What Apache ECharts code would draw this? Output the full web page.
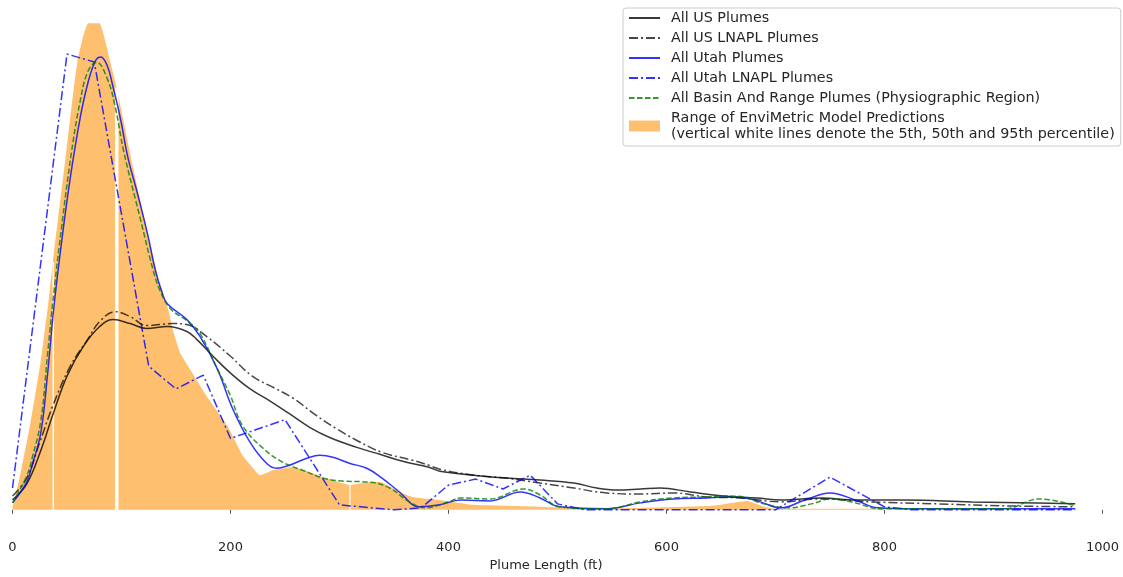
<!DOCTYPE html>
<html>
<head>
<meta charset="utf-8">
<script src="https://cdn.jsdelivr.net/npm/echarts@6/dist/echarts.min.js"></script>
<style>
html,body{margin:0;padding:0;background:#fff;}
#chart{width:1123px;height:577px;}
</style>
</head>
<body>
<div id="chart"></div>
<script>
// ---- data (Plume Length ft, relative density in arbitrary units) ----
const xTicks = [0, 200, 400, 600, 800, 1000];
const seriesNames = [
  'All US Plumes',
  'All US LNAPL Plumes',
  'All Utah Plumes',
  'All Utah LNAPL Plumes',
  'All Basin And Range Plumes (Physiographic Region)',
  'Range of EnviMetric Model Predictions\n(vertical white lines denote the 5th, 50th and 95th percentile)'
];
const usAll = [[0,10],[13,26],[26,60],[37,96],[50,135],[65,165],[80,185],[92,192],[108,188],[123,183],[142,185],[160,180],[169,172],[184,155],[200,138],[218,122],[236,110],[254,97],[273,83],[291,73],[316,63],[337,56],[358,49],[382,43],[392,39],[423,35],[453,32],[484,30],[515,27],[536,22],[554,20],[576,21],[594,22],[622,18],[652,14],[683,12],[705,10],[742,12],[773,10],[819,10],[880,8],[940,7],[975,6]];
const usLnapl = [[0,14],[13,32],[25,68],[37,105],[53,145],[69,172],[80,190],[94,200],[108,195],[123,186],[147,188],[160,187],[178,175],[200,155],[220,135],[242,122],[257,113],[279,95],[297,82],[316,70],[339,58],[367,50],[382,45],[392,41],[423,35],[453,32],[484,27],[515,22],[545,17],[576,16],[607,17],[637,13],[668,12],[705,8],[742,11],[788,8],[849,6],[910,4],[975,3]];
const utahAll = [[0,7],[13,28],[18,45],[26,78],[32,135],[38,205],[45,270],[53,335],[62,395],[69,430],[76,453],[81,457],[87,448],[92,428],[99,395],[106,355],[114,322],[124,278],[131,242],[137,220],[142,208],[160,192],[172,175],[188,142],[202,102],[218,68],[233,47],[242,42],[254,45],[270,52],[282,55],[294,53],[309,47],[325,42],[339,32],[355,18],[373,3],[392,5],[411,10],[438,9],[466,18],[484,12],[502,3],[545,1],[576,7],[606,11],[637,12],[652,13],[672,12],[686,8],[705,2],[727,10],[750,17],[773,10],[794,2],[830,1],[975,1]];
const utahLnapl = [[0,22],[50,460],[75,452],[125,145],[150,122],[175,136],[200,72],[250,91],[300,5],[350,0],[375,2],[400,25],[425,31],[450,21],[475,35],[500,6],[525,0],[700,0],[750,33],[800,3],[825,0],[975,0]];
const basinRange = [[0,7],[13,34],[18,52],[26,90],[32,155],[38,220],[45,285],[54,360],[62,412],[69,442],[77,452],[87,435],[94,408],[102,362],[117,295],[129,242],[135,222],[145,203],[161,190],[172,178],[188,142],[200,115],[211,85],[230,62],[248,48],[266,40],[285,32],[303,29],[327,28],[346,22],[364,8],[379,2],[400,8],[411,12],[438,11],[469,21],[484,15],[502,3],[545,1],[576,8],[606,12],[637,13],[652,14],[672,13],[686,7],[712,2],[733,6],[751,11],[770,8],[797,1],[910,1],[942,11],[975,4]];
const modelRange = [[0,2],[7,35],[16.5,88],[25.6,148],[33,210],[37,250],[49.4,362],[59.5,452],[69.5,491],[79.6,491],[89.7,452],[95.6,426],[110.7,345],[126,270],[135,230],[143,202],[147,182],[154,158],[165,138],[178,115],[197,85],[211,55],[220,43],[227,35],[239,40],[257,43],[273,38],[288,32],[309.6,25],[328,28],[337,28],[355,18],[367,13],[382,11],[392,10],[423,5],[453,4],[484,3],[530,1],[581,2],[641,4],[674,9],[690,3],[700,1],[797,1],[800,0],[975,0]];
const percentileX = [37.4, 95.6, 309.6];
const percentileTop = [250, 426, 25];

// ---- chart ----
const FONT = 'DejaVu Sans';
const chart = echarts.init(document.getElementById('chart'), null, {renderer: 'canvas'});

function curve(name, data, color, type, smooth) {
  return {
    name: name, type: 'line', data: data, symbol: 'none', smooth: smooth,
    z: 3, silent: true,
    lineStyle: {color: color, width: 1.5, type: type},
    itemStyle: {color: color}
  };
}

const pctWidths = [1.5, 3.5, 1.2];
const pctSeries = percentileX.map((x, i) => ({
  type: 'line', symbol: 'none', silent: true, z: 2,
  data: [[x, 0], [x, percentileTop[i]]],
  lineStyle: {color: '#ffffff', width: pctWidths[i]}
}));

const hiddenMarker = {color: 'transparent', borderWidth: 0, opacity: 0};

const option = {
  animation: false,
  backgroundColor: '#ffffff',
  grid: {left: 12.5, width: 1090, top: 10, bottom: 39, containLabel: false},
  xAxis: {
    type: 'value', min: xTicks[0], max: xTicks[xTicks.length - 1], interval: 200,
    axisLine: {show: false},
    axisTick: {show: true, length: 4, lineStyle: {color: '#555', width: 1}},
    axisLabel: {margin: 8, fontFamily: FONT, fontSize: 13, color: '#262626', formatter: v => String(v)},
    splitLine: {show: false},
    name: 'Plume Length (ft)', nameLocation: 'middle', nameGap: 25,
    nameTextStyle: {fontFamily: FONT, fontSize: 13, color: '#262626', padding: [0, 23, 0, 0]}
  },
  yAxis: {
    type: 'value', min: -23.5, max: 504.5, show: false,
    splitLine: {show: false}
  },
  legend: {
    orient: 'vertical', left: 623, top: 8,
    padding: [2, 6, 4, 5],
    itemWidth: 31, itemHeight: 11, itemGap: 4,
    backgroundColor: '#ffffff', borderColor: '#cccccc', borderWidth: 1, borderRadius: 3,
    textStyle: {fontFamily: FONT, fontSize: 14.3, color: '#262626', lineHeight: 16, padding: [0, 0, 0, 6]},
    data: [
      {name: seriesNames[0], itemStyle: hiddenMarker},
      {name: seriesNames[1], itemStyle: hiddenMarker},
      {name: seriesNames[2], itemStyle: hiddenMarker},
      {name: seriesNames[3], itemStyle: hiddenMarker},
      {name: seriesNames[4], itemStyle: hiddenMarker},
      {name: seriesNames[5], icon: 'rect'}
    ],
    selectedMode: false
  },
  series: [
    {
      name: seriesNames[5], type: 'line', data: modelRange, symbol: 'none', smooth: 0.15,
      z: 1, silent: true,
      lineStyle: {width: 0, color: '#FEC06F'},
      itemStyle: {color: '#FEC06F'},
      areaStyle: {color: '#FEC06F', opacity: 1}
    },
    ...pctSeries,
    curve(seriesNames[0], usAll, 'rgba(0,0,0,0.78)', 'solid', 0.4),
    curve(seriesNames[1], usLnapl, 'rgba(0,0,0,0.72)', [9, 3, 2, 3], 0.4),
    curve(seriesNames[2], utahAll, 'rgba(0,0,255,0.8)', 'solid', 0.4),
    curve(seriesNames[3], utahLnapl, 'rgba(0,0,255,0.8)', [9, 3, 2, 3], false),
    curve(seriesNames[4], basinRange, 'rgba(0,128,0,0.8)', [5.5, 2.5], 0.4)
  ]
};
chart.setOption(option);
</script>
</body>
</html>
